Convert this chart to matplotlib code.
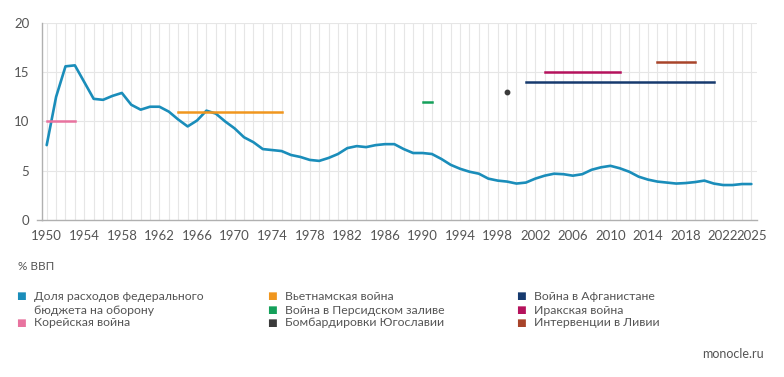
import matplotlib
matplotlib.use("Agg")
import matplotlib.pyplot as plt
import numpy as np

plt.rcParams['font.family'] = ['Lato', 'DejaVu Sans']

years = list(range(1950, 2026))
defense_share = [
    7.6, 12.5, 15.6, 15.7, 14.0, 12.3, 12.2, 12.6, 12.9, 11.7,
    11.2, 11.5, 11.5, 11.0, 10.2, 9.5, 10.1, 11.1, 10.8, 10.0,
    9.3, 8.4, 7.9, 7.2, 7.1, 7.0, 6.6, 6.4, 6.1, 6.0,
    6.3, 6.7, 7.3, 7.5, 7.4, 7.6, 7.7, 7.7, 7.2, 6.8,
    6.8, 6.7, 6.2, 5.6, 5.2, 4.9, 4.7, 4.2, 4.0, 3.9,
    3.7, 3.8, 4.2, 4.5, 4.7, 4.65, 4.5, 4.65, 5.1, 5.35,
    5.5, 5.25, 4.9, 4.4, 4.1, 3.9, 3.8, 3.7, 3.75, 3.85,
    4.0, 3.7, 3.55, 3.55, 3.65, 3.65,
]

war_names = ["Корейская война", "Вьетнамская война", "Война в Персидском заливе",
             "Бомбардировки Югославии", "Война в Афганистане", "Иракская война",
             "Интервенции в Ливии"]
war_start = [1950, 1964, 1990, 1999, 2001, 2003, 2015]
war_end = [1953, 1975, 1991, 1999, 2021, 2011, 2019]
war_level = [10, 11, 12, 13, 14, 15, 16]
war_colors = ["#e8739f", "#f0961e", "#14a05a", "#3a3a3a", "#163a6e", "#b5125c", "#a8442a"]
main_name = "Доля расходов федерального\nбюджета на оборону"
main_color = "#1a8dba"

xticks = [1950, 1954, 1958, 1962, 1966, 1970, 1974, 1978, 1982, 1986, 1990,
          1994, 1998, 2002, 2006, 2010, 2014, 2018, 2022, 2025]
yticks = [0, 5, 10, 15, 20]

W, H = 784, 377
fig = plt.figure(figsize=(W / 100, H / 100), dpi=100)
ax = fig.add_axes([42 / W, 1 - 220 / H, (757 - 42) / W, (220 - 23) / H])

txt_color = "#555555"
grid_color = "#e6e6e6"

for y in years:
    ax.axvline(y, color=grid_color, lw=0.8, zorder=0)
for y in yticks[1:]:
    ax.axhline(y, color=grid_color, lw=0.8, zorder=0)

ax.plot(years, defense_share, color=main_color, lw=1.9, zorder=3,
        solid_joinstyle='round', solid_capstyle='round')

for s, e, lv, c in zip(war_start, war_end, war_level, war_colors):
    if s == e:
        ax.plot([s], [lv], 'o', color=c, ms=3.2, zorder=3)
    else:
        ax.plot([s, e], [lv, lv], color=c, lw=1.8, zorder=3)

ax.set_xlim(1949.5, 2025.6)
ax.set_ylim(0, 20)
ax.set_xticks(xticks)
ax.set_yticks(yticks)
ax.set_xticklabels([str(t) for t in xticks])
for sp in ["top", "right"]:
    ax.spines[sp].set_visible(False)
for sp in ["left", "bottom"]:
    ax.spines[sp].set_color("#b0b0b0")
    ax.spines[sp].set_linewidth(1.0)
ax.tick_params(axis='x', length=0, pad=7, labelsize=9.5, colors=txt_color)
ax.tick_params(axis='y', length=0, pad=9, labelsize=9.5, colors=txt_color)
ax.plot([1949.5 - 0.55, 1949.5], [0, 0], color="#b0b0b0", lw=1.0, clip_on=False)

fig.text(18 / W, 1 - 266 / H, "% ВВП", fontsize=8.5, color=txt_color, va='center', ha='left')

# legend
names = [main_name] + war_names
colors = [main_color] + war_colors
col_sq = [21, 272, 521]
col_tx = [34, 285, 534]
row_y = [296, 310, 323]
slots = [(0, 0), (0, 2), (1, 0), (1, 1), (1, 2), (2, 0), (2, 1), (2, 2)]
for name, c, (col, row) in zip(names, colors, slots):
    fig.text(col_sq[col] / W, 1 - row_y[row] / H, "■", color=c, fontsize=7.5,
             va='center', ha='center', family='DejaVu Sans')
    lines = name.split("\n")
    for i, ln in enumerate(lines):
        fig.text(col_tx[col] / W, 1 - (row_y[row] + 14 * i) / H, ln,
                 fontsize=8.8, color=txt_color, va='center', ha='left')

fig.text(764 / W, 1 - 354 / H, "monocle.ru", fontsize=9, color=txt_color,
         va='center', ha='right')

fig.savefig("out.png", dpi=100, facecolor="white")
